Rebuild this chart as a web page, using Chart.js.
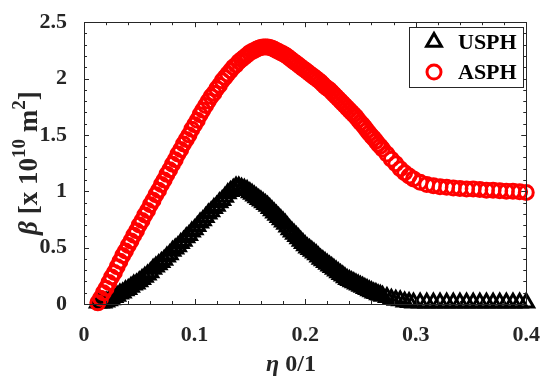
<!DOCTYPE html>
<html>
<head>
<meta charset="utf-8">
<script src="https://cdn.jsdelivr.net/npm/chart.js@4/dist/chart.umd.min.js"></script>
<style>
  html, body { margin: 0; padding: 0; background: #ffffff; }
  #wrap { width: 550px; height: 377px; position: relative; }
</style>
</head>
<body>
<div id="wrap"><canvas id="betaChart"></canvas></div>
<script>
// eta values (shared by both series)
const etaValues = [
  0.0125, 0.015, 0.0175, 0.02, 0.0225, 0.025, 0.0275, 0.03, 0.0325, 0.035,
  0.0375, 0.04, 0.0425, 0.045, 0.0475, 0.05, 0.0525, 0.055, 0.0575, 0.06,
  0.0625, 0.065, 0.0675, 0.07, 0.0725, 0.075, 0.0775, 0.08, 0.0825, 0.085,
  0.0875, 0.09, 0.0925, 0.095, 0.0975, 0.1, 0.1025, 0.105, 0.1075, 0.11,
  0.1125, 0.115, 0.1175, 0.12, 0.1225, 0.125, 0.1275, 0.13, 0.1325, 0.135,
  0.1375, 0.14, 0.1425, 0.145, 0.1475, 0.15,
  0.152, 0.154, 0.156, 0.158, 0.16, 0.162, 0.164, 0.166, 0.168, 0.17,
  0.172, 0.174, 0.176, 0.178, 0.18, 0.182, 0.184, 0.186, 0.188, 0.19,
  0.192, 0.194, 0.196, 0.198, 0.2, 0.202, 0.204, 0.206, 0.208, 0.21,
  0.212, 0.214, 0.216, 0.218, 0.22, 0.222, 0.224, 0.226, 0.228, 0.23,
  0.232, 0.234, 0.236, 0.238, 0.24, 0.242, 0.244, 0.246, 0.248, 0.25,
  0.252, 0.254, 0.256, 0.258, 0.26, 0.262, 0.264, 0.266, 0.268, 0.27,
  0.274, 0.278, 0.282, 0.286, 0.29, 0.294, 0.298,
  0.304, 0.31, 0.316, 0.322, 0.328, 0.334, 0.34, 0.346, 0.352, 0.358,
  0.364, 0.37, 0.376, 0.382, 0.388, 0.394, 0.4,
];

// USPH (black triangles)
const usphValues = [
  0.01, 0.01, 0.01, 0.02, 0.03, 0.04, 0.06, 0.07, 0.09, 0.1,
  0.12, 0.13, 0.15, 0.17, 0.18, 0.2, 0.22, 0.24, 0.26, 0.28,
  0.31, 0.33, 0.35, 0.37, 0.39, 0.42, 0.44, 0.47, 0.49, 0.51,
  0.54, 0.56, 0.59, 0.61, 0.64, 0.66, 0.69, 0.72, 0.74, 0.77,
  0.8, 0.82, 0.85, 0.87, 0.9, 0.92, 0.95, 0.98, 1.0, 1.02,
  1.04, 1.04, 1.03, 1.02, 1.01, 0.99,
  0.975, 0.96, 0.945, 0.93, 0.915, 0.9, 0.885, 0.87, 0.85, 0.83,
  0.81, 0.79, 0.77, 0.75, 0.73, 0.71, 0.685, 0.66, 0.64, 0.62,
  0.6, 0.58, 0.56, 0.54, 0.52, 0.5, 0.485, 0.47, 0.455, 0.44,
  0.42, 0.4, 0.385, 0.37, 0.355, 0.34, 0.325, 0.31, 0.295, 0.28,
  0.265, 0.25, 0.235, 0.22, 0.21, 0.2, 0.19, 0.18, 0.17, 0.16,
  0.15, 0.14, 0.13, 0.12, 0.11, 0.1, 0.095, 0.085, 0.08, 0.07,
  0.06, 0.045, 0.035, 0.03, 0.02, 0.015, 0.01,
  0.01, 0.01, 0.01, 0.01, 0.01, 0.01, 0.01, 0.01, 0.01, 0.01,
  0.01, 0.01, 0.01, 0.01, 0.01, 0.01, 0.01,
];

// ASPH (red circles)
const asphValues = [
  0.01, 0.05, 0.1, 0.14, 0.19, 0.24, 0.28, 0.33, 0.38, 0.43,
  0.47, 0.52, 0.56, 0.61, 0.65, 0.7, 0.74, 0.79, 0.83, 0.88,
  0.92, 0.97, 1.01, 1.06, 1.1, 1.15, 1.19, 1.24, 1.28, 1.33,
  1.37, 1.42, 1.46, 1.5, 1.55, 1.59, 1.63, 1.68, 1.72, 1.76,
  1.8, 1.84, 1.87, 1.91, 1.94, 1.98, 2.01, 2.04, 2.07, 2.1,
  2.12, 2.15, 2.17, 2.19, 2.21, 2.23,
  2.24, 2.25, 2.26, 2.27, 2.275, 2.28, 2.28, 2.28, 2.275, 2.27,
  2.26, 2.25, 2.24, 2.23, 2.22, 2.21, 2.195, 2.18, 2.165, 2.15,
  2.135, 2.12, 2.105, 2.09, 2.075, 2.06, 2.045, 2.03, 2.015, 2.0,
  1.985, 1.97, 1.95, 1.93, 1.915, 1.9, 1.88, 1.86, 1.84, 1.82,
  1.8, 1.78, 1.76, 1.74, 1.72, 1.7, 1.68, 1.66, 1.635, 1.61,
  1.59, 1.565, 1.54, 1.515, 1.49, 1.47, 1.445, 1.42, 1.4, 1.375,
  1.33, 1.285, 1.245, 1.2, 1.165, 1.135, 1.11,
  1.08, 1.06, 1.05, 1.04, 1.035, 1.03, 1.025, 1.02, 1.02, 1.015,
  1.01, 1.01, 1.005, 1.0, 1.0, 0.995, 0.99,
];

const xTicks = [0, 0.1, 0.2, 0.3, 0.4];
const yTicks = [0, 0.5, 1, 1.5, 2, 2.5];
const xMinorStep = 0.02;
const yMinorStep = 0.1;
const seriesNames = ["USPH", "ASPH"];

const SERIF = "'Liberation Serif', 'Times New Roman', serif";
const AXIS_COLOR = "#262626";

function toPoints(xs, ys) {
  return xs.map((x, i) => ({ x: x, y: ys[i] }));
}

// box + inward ticks (MATLAB style)
const boxTicksPlugin = {
  id: "boxTicks",
  afterDraw(chart) {
    const ctx = chart.ctx;
    const a = chart.chartArea;
    const xs = chart.scales.x;
    const ys = chart.scales.y;
    ctx.save();
    ctx.strokeStyle = AXIS_COLOR;
    ctx.lineWidth = 1;
    ctx.beginPath();
    for (let v = 0; v <= 0.4 + 1e-9; v += xMinorStep) {
      const px = Math.round(xs.getPixelForValue(v)) + 0.5;
      const major = xTicks.some((t) => Math.abs(t - v) < 1e-6);
      const len = major ? 5 : 3;
      ctx.moveTo(px, a.bottom);
      ctx.lineTo(px, a.bottom - len);
      ctx.moveTo(px, a.top);
      ctx.lineTo(px, a.top + len);
    }
    for (let v = 0; v <= 2.5 + 1e-9; v += yMinorStep) {
      const py = Math.round(ys.getPixelForValue(v)) + 0.5;
      const major = yTicks.some((t) => Math.abs(t - v) < 1e-6);
      const len = major ? 5 : 3;
      ctx.moveTo(a.left, py);
      ctx.lineTo(a.left + len, py);
      ctx.moveTo(a.right, py);
      ctx.lineTo(a.right - len, py);
    }
    ctx.stroke();
    ctx.strokeRect(Math.round(a.left) + 0.5, Math.round(a.top) + 0.5,
      Math.round(a.right - a.left), Math.round(a.bottom - a.top));
    ctx.restore();
  },
};

// axis titles with italic greek letters and superscripts
const axisTitlesPlugin = {
  id: "axisTitles",
  afterDraw(chart) {
    const ctx = chart.ctx;
    const a = chart.chartArea;
    ctx.save();
    ctx.fillStyle = AXIS_COLOR;
    ctx.textBaseline = "alphabetic";

    // x title
    const xParts = [
      { t: "\u03B7", f: "italic bold 24px " + SERIF, dy: 0 },
      { t: " 0/1", f: "bold 24px " + SERIF, dy: 0 },
    ];
    drawParts(ctx, xParts, 291, 371);

    // y title (rotated)
    const yParts = [
      { t: "\u03B2", f: "italic bold 27px " + SERIF, dy: 0 },
      { t: " [x 10", f: "bold 27px " + SERIF, dy: 0 },
      { t: "10", f: "bold 19px " + SERIF, dy: -12 },
      { t: " m", f: "bold 27px " + SERIF, dy: 0 },
      { t: "2", f: "bold 19px " + SERIF, dy: -12 },
      { t: "]", f: "bold 27px " + SERIF, dy: 0 },
    ];
    ctx.translate(37, (a.top + a.bottom) / 2);
    ctx.rotate(-Math.PI / 2);
    drawParts(ctx, yParts, 0, 0);
    ctx.restore();
  },
};

function drawParts(ctx, parts, cx, baseY) {
  let total = 0;
  parts.forEach((p) => {
    ctx.font = p.f;
    p.w = ctx.measureText(p.t).width;
    total += p.w;
  });
  let x = cx - total / 2;
  ctx.textAlign = "left";
  parts.forEach((p) => {
    ctx.font = p.f;
    ctx.fillText(p.t, x, baseY + p.dy);
    x += p.w;
  });
}

// boxed legend in the upper right corner
const legendBoxPlugin = {
  id: "legendBox",
  afterDraw(chart) {
    const ctx = chart.ctx;
    ctx.save();
    ctx.fillStyle = "#ffffff";
    ctx.fillRect(409.5, 27.5, 114, 60);
    ctx.strokeStyle = AXIS_COLOR;
    ctx.lineWidth = 1;
    ctx.strokeRect(409.5, 27.5, 114, 60);

    chart.data.datasets.forEach((ds, i) => {
      const cy = i === 0 ? 42 : 72;
      ctx.fillStyle = "#ffffff";
      ctx.strokeStyle = ds.borderColor;
      ctx.lineWidth = ds.borderWidth;
      Chart.helpers.drawPoint(ctx, {
        pointStyle: ds.pointStyle,
        radius: ds.pointRadius,
        borderWidth: ds.borderWidth,
        rotation: 0,
      }, 434, cy);
      ctx.fillStyle = "#000000";
      ctx.font = "bold 22px " + SERIF;
      ctx.textAlign = "left";
      ctx.textBaseline = "middle";
      ctx.fillText(seriesNames[i], 458, cy + 1);
    });
    ctx.restore();
  },
};

function initializeBetaChart() {
  const ctx = document.getElementById("betaChart");
  if (!ctx) return;

  new Chart(ctx, {
    type: "scatter",
    data: {
      datasets: [
        {
          label: seriesNames[0],
          data: toPoints(etaValues, usphValues),
          pointStyle: "triangle",
          pointRadius: 8.5,
          borderWidth: 3,
          borderColor: "#000000",
          backgroundColor: "rgba(0,0,0,0)",
          showLine: false,
          clip: false,
          order: 1,
        },
        {
          label: seriesNames[1],
          data: toPoints(etaValues, asphValues),
          pointStyle: "circle",
          pointRadius: 7,
          borderWidth: 3,
          borderColor: "#ff0000",
          backgroundColor: "rgba(0,0,0,0)",
          showLine: false,
          clip: false,
          order: 0,
        },
      ],
    },
    options: {
      responsive: true,
      maintainAspectRatio: false,
      animation: false,
      layout: {
        padding: { left: 0, right: 20, top: 16, bottom: 0 },
      },
      plugins: {
        legend: { display: false },
        tooltip: { enabled: false },
      },
      scales: {
        x: {
          type: "linear",
          min: 0,
          max: 0.4,
          afterFit: (s) => { s.height = 73; },
          afterBuildTicks: (s) => { s.ticks = xTicks.map((v) => ({ value: v })); },
          grid: { display: false },
          border: { display: false },
          ticks: {
            color: AXIS_COLOR,
            padding: 10,
            font: { family: SERIF, size: 22, weight: "bold" },
            maxRotation: 0,
            callback: (v) => String(v),
          },
        },
        y: {
          type: "linear",
          min: 0,
          max: 2.5,
          afterFit: (s) => { s.width = 84; },
          afterBuildTicks: (s) => { s.ticks = yTicks.map((v) => ({ value: v })); },
          grid: { display: false },
          border: { display: false },
          ticks: {
            color: AXIS_COLOR,
            padding: 9,
            font: { family: SERIF, size: 22, weight: "bold" },
            callback: (v) => String(v),
          },
        },
      },
    },
    plugins: [boxTicksPlugin, axisTitlesPlugin, legendBoxPlugin],
  });
}

document.addEventListener("DOMContentLoaded", function () {
  initializeBetaChart();
});
</script>
</body>
</html>
